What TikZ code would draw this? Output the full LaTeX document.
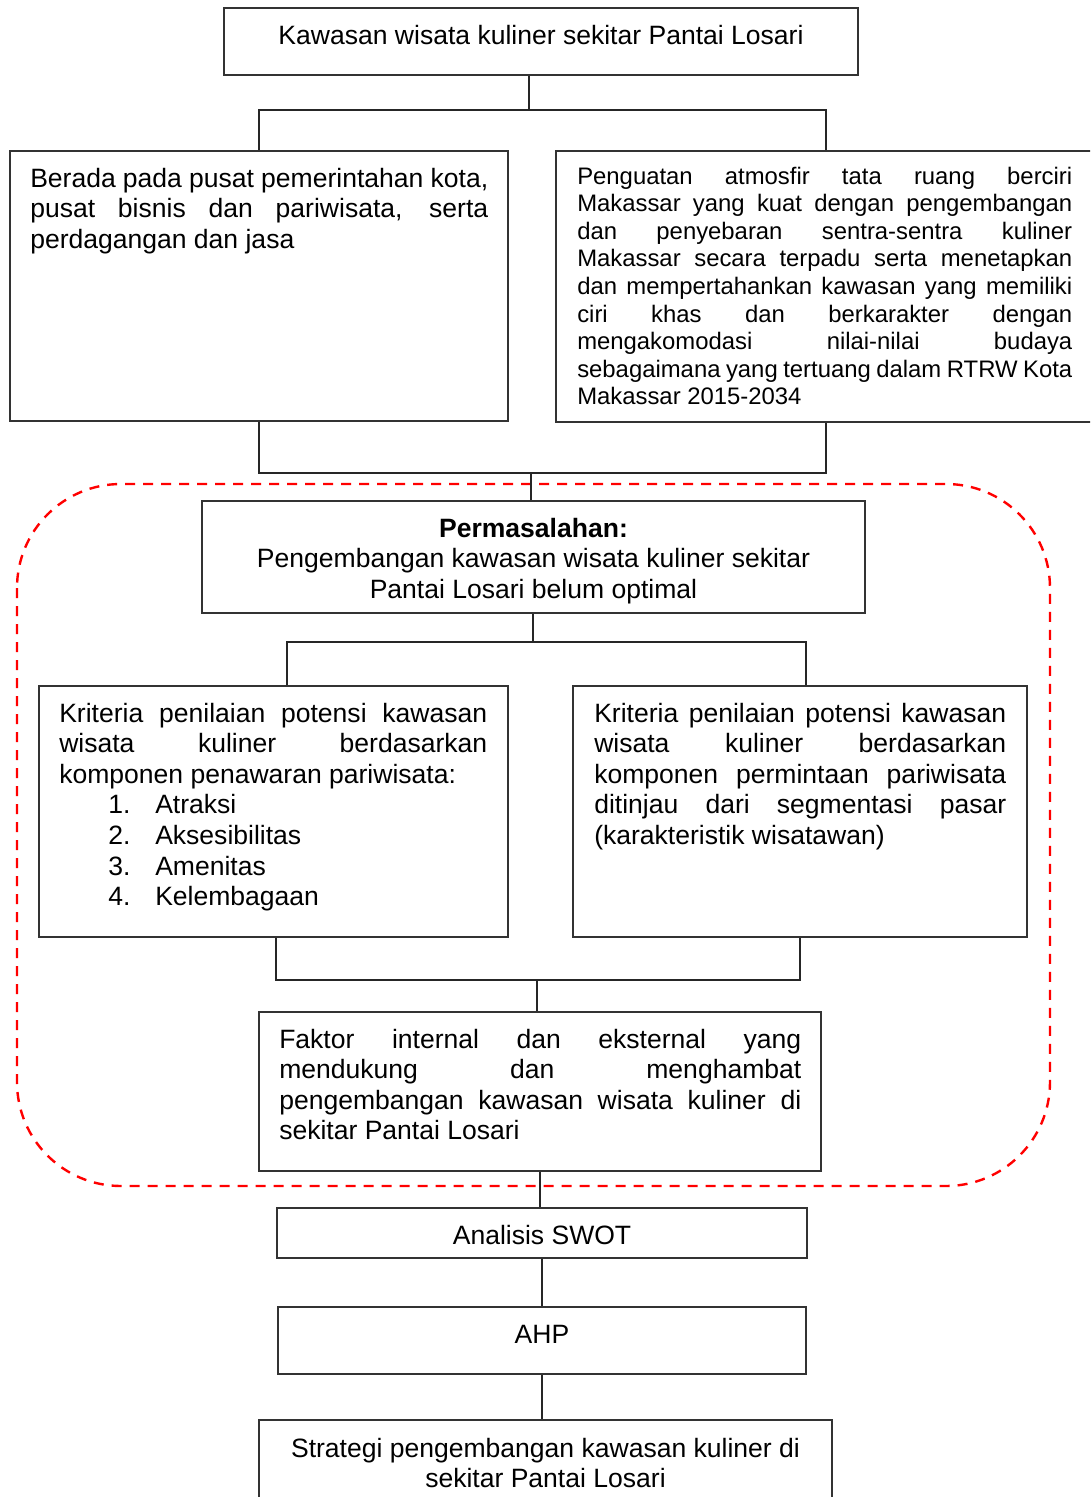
\documentclass[tikz,border=0pt]{standalone}
\usepackage{fontspec}
\setmainfont{Liberation Sans}
\usetikzlibrary{fit}
\tolerance=10000
\hyphenpenalty=10000
\exhyphenpenalty=10000
\begin{document}
\begin{tikzpicture}[x=0.75pt,y=-0.75pt,
  box/.style={draw=black!80, line width=1.1pt, inner sep=0pt},
  conn/.style={draw=black!85, line width=0.8pt},
  region/.style={draw=red, line width=1.8pt, dash pattern=on 7.5pt off 6pt, rounded corners=78pt},
  ft/.style={inner sep=0pt, font=\fontsize{19.9}{22.95}\selectfont},
  fs/.style={inner sep=0pt, font=\fontsize{17.9}{20.7}\selectfont},
  jt/.style={ft, align=justify, anchor=base west},
  js/.style={fs, align=justify, anchor=base west},
  ct/.style={ft, align=flush center, anchor=base},
]
\useasboundingbox (0,0) rectangle (1090,1497);
\clip (0,0) rectangle (1090,1497);

% dashed region
\draw[region] (17,484) rectangle (1050,1186);

% boxes
\node[box, fit={(224,8)(858,75)}] (top) {};
\node[box, fit={(10,151)(508,421)}] (bl) {};
\node[box, fit={(556,151)(1096,422)}] (br) {};
\node[box, fit={(202,501)(865,613)}] (perm) {};
\node[box, fit={(39,686)(508,937)}] (kl) {};
\node[box, fit={(573,686)(1027,937)}] (kr) {};
\node[box, fit={(259,1012)(821,1171)}] (fak) {};
\node[box, fit={(277,1208)(807,1258)}] (swot) {};
\node[box, fit={(278,1307)(806,1374)}] (ahp) {};
\node[box, fit={(259,1420)(832,1510)}] (strat) {};

% texts
\node[ct, text width=470pt] (ttop) at (541,44) {Kawasan wisata kuliner sekitar Pantai Losari};
\node[jt, text width=343.5pt] (tbl) at (30,187) {Berada pada pusat pemerintahan kota,\linebreak pusat bisnis dan pariwisata, serta\linebreak perdagangan dan jasa};
\node[js, text width=371.25pt] (tbr) at (577,184) {Penguatan atmosfir tata ruang berciri\linebreak Makassar yang kuat dengan pengembangan\linebreak dan penyebaran sentra-sentra kuliner\linebreak Makassar secara terpadu serta menetapkan\linebreak dan mempertahankan kawasan yang memiliki\linebreak ciri khas dan berkarakter dengan\linebreak mengakomodasi nilai-nilai budaya\linebreak sebagaimana yang tertuang dalam RTRW Kota\linebreak Makassar 2015-2034};
\node[ct, text width=480pt] (tperm) at (533.5,537) {\textbf{Permasalahan:}\\Pengembangan kawasan wisata kuliner sekitar\\Pantai Losari belum optimal};
\node[jt, text width=321pt] (tkl) at (59,722) {Kriteria penilaian potensi kawasan\linebreak wisata kuliner berdasarkan\linebreak komponen penawaran pariwisata:\\
\hspace*{36.75pt}\makebox[35.25pt][l]{1.}Atraksi\\
\hspace*{36.75pt}\makebox[35.25pt][l]{2.}Aksesibilitas\\
\hspace*{36.75pt}\makebox[35.25pt][l]{3.}Amenitas\\
\hspace*{36.75pt}\makebox[35.25pt][l]{4.}Kelembagaan};
\node[jt, text width=309pt] (tkr) at (594,722) {Kriteria penilaian potensi kawasan\linebreak wisata kuliner berdasarkan\linebreak komponen permintaan pariwisata\linebreak ditinjau dari segmentasi pasar\linebreak (karakteristik wisatawan)};
\node[jt, text width=391.5pt] (tfak) at (279,1048) {Faktor internal dan eksternal yang\linebreak mendukung dan menghambat\linebreak pengembangan kawasan wisata kuliner di\linebreak sekitar Pantai Losari};
\node[ct, text width=380pt] (tswot) at (542,1244) {Analisis SWOT};
\node[ct, text width=380pt] (tahp) at (542,1343) {AHP};
\node[ct, text width=420pt] (tstrat) at (545.5,1457) {Strategi pengembangan kawasan kuliner di\\sekitar Pantai Losari};

% connectors
\coordinate (j1) at (529,110);
\draw[conn] (j1 |- top.south) -- (j1);
\draw[conn] (bl.north) -- (bl.north |- j1) -- (br.north |- j1) -- (br.north);

\coordinate (j2) at (531,473);
\draw[conn] (bl.south) -- (bl.south |- j2) -- (br.south |- j2) -- (br.south);
\draw[conn] (j2) -- (j2 |- perm.north);

\coordinate (j3) at (533,642);
\coordinate (j3l) at (287,642);
\coordinate (j3r) at (806,642);
\draw[conn] (j3 |- perm.south) -- (j3);
\draw[conn] (j3l |- kl.north) -- (j3l) -- (j3r) -- (j3r |- kr.north);

\coordinate (j4) at (537,980);
\coordinate (j4l) at (276,980);
\coordinate (j4r) at (800,980);
\draw[conn] (j4l |- kl.south) -- (j4l) -- (j4r) -- (j4r |- kr.south);
\draw[conn] (j4) -- (j4 |- fak.north);

\draw[conn] (fak.south) -- (fak.south |- swot.north);
\draw[conn] (swot.south) -- (swot.south |- ahp.north);
\draw[conn] (ahp.south) -- (ahp.south |- strat.north);
\end{tikzpicture}
\end{document}
